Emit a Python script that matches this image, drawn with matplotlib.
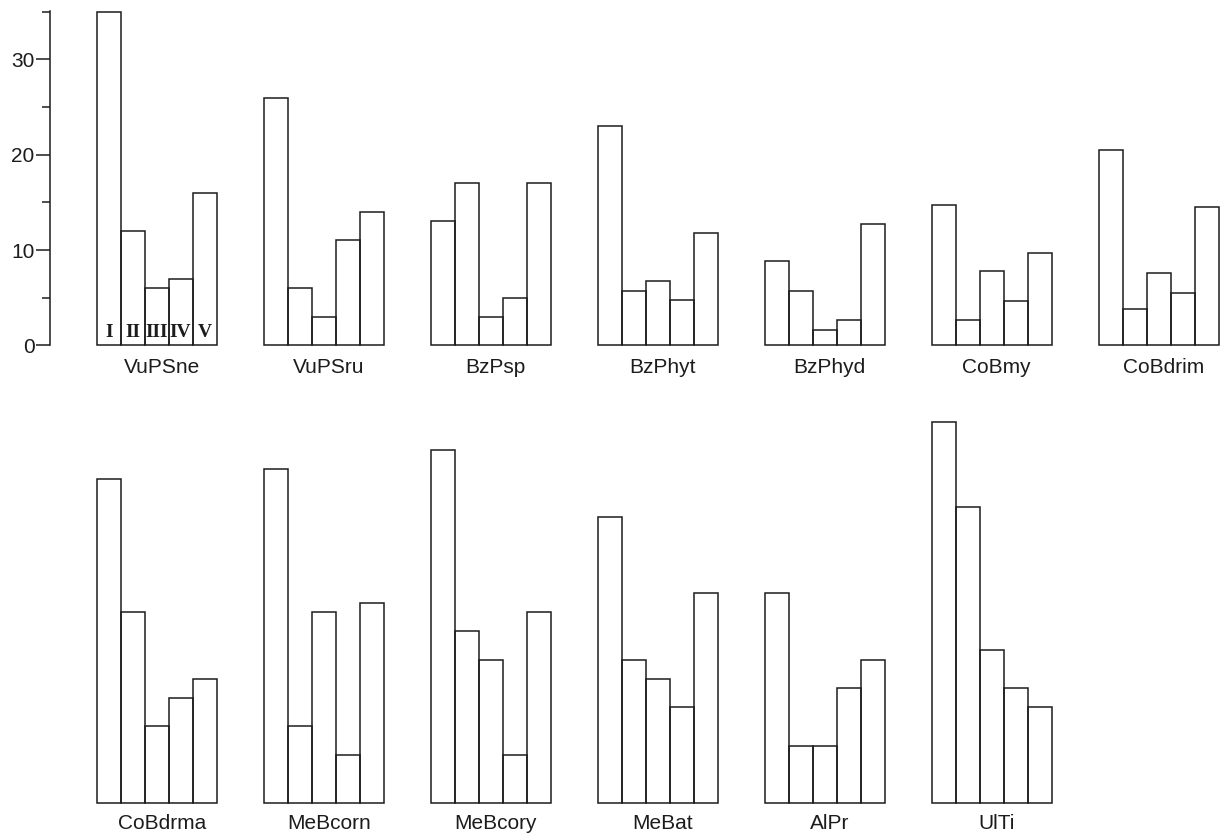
import numpy as np
import matplotlib
matplotlib.use("Agg")
import matplotlib.pyplot as plt

plt.rcParams['font.family'] = ['Liberation Sans', 'DejaVu Sans']

# five classes I..V per site
classes = ['I', 'II', 'III', 'IV', 'V']

top_sites = ['VuPSne', 'VuPSru', 'BzPsp', 'BzPhyt', 'BzPhyd', 'CoBmy', 'CoBdrim']
top_values = [
    [35, 12, 6, 7, 16],
    [26, 6, 3, 11, 14],
    [13, 17, 3, 5, 17],
    [23, 5.7, 6.7, 4.8, 11.8],
    [8.8, 5.7, 1.6, 2.7, 12.7],
    [14.7, 2.7, 7.8, 4.7, 9.7],
    [20.5, 3.8, 7.6, 5.5, 14.5],
]

bottom_sites = ['CoBdrma', 'MeBcorn', 'MeBcory', 'MeBat', 'AlPr', 'UlTi']
bottom_values = [
    [34, 20, 8, 11, 13],
    [35, 8, 20, 5, 21],
    [37, 18, 15, 5, 20],
    [30, 15, 13, 10, 22],
    [22, 6, 6, 12, 15],
    [40, 31, 16, 12, 10],
]

# layout (pixels of a 1230x840 figure)
W, H = 1230, 840
px_per_unit = 9.53
ax_left = 50
bar_w = 24
group_step = 167
group_off = 46.7
ink = '#1c1c1c'

fig = plt.figure(figsize=(12.3, 8.4), dpi=100)

top_ymax = 35.1
bot_ymax = 41.5
ax_top = fig.add_axes([ax_left / W, (H - 345.3) / H,
                       (W - ax_left) / W, top_ymax * px_per_unit / H])
ax_bot = fig.add_axes([ax_left / W, (H - 802.7) / H,
                       (W - ax_left) / W, bot_ymax * px_per_unit / H])


def draw_row(ax, sites, values, label_y, label_dx):
    for i, (site, vals) in enumerate(zip(sites, values)):
        x0 = group_off + i * group_step
        xs = x0 + np.arange(len(vals)) * bar_w
        ax.bar(xs, vals, width=bar_w, align='edge', fill=False,
               edgecolor=ink, linewidth=1.1, clip_on=False)
        ax.text(x0 + 2.5 * bar_w + label_dx, label_y, site, ha='center',
                va='center', fontsize=15, color=ink)
    ax.set_xlim(0, W - ax_left)


draw_row(ax_top, top_sites, top_values, -2.28, 5)
draw_row(ax_bot, bottom_sites, bottom_values, -2.16, 5)

# roman numerals inside the first group
for j, c in enumerate(classes):
    ax_top.text(group_off + (j + 0.5) * bar_w, 0.5, c, ha='center',
                va='bottom', fontsize=14, fontweight='bold',
                family='Liberation Serif', color=ink)

ax_top.set_ylim(0, top_ymax)
ax_bot.set_ylim(0, bot_ymax)

for ax in (ax_top, ax_bot):
    for s in ['top', 'right', 'bottom']:
        ax.spines[s].set_visible(False)
    ax.set_xticks([])

ax_bot.spines['left'].set_visible(False)
ax_bot.set_yticks([])

ax_top.spines['left'].set_color(ink)
ax_top.spines['left'].set_linewidth(1.1)
ax_top.set_yticks([0, 10, 20, 30])
ax_top.set_yticks([5, 15, 25, 35], minor=True)
ax_top.tick_params(axis='y', which='major', length=10, width=1.1,
                   color=ink, labelsize=15, labelcolor=ink, pad=1)
ax_top.tick_params(axis='y', which='minor', length=6, width=1.1, color=ink)

fig.savefig('out.png', dpi=100)
